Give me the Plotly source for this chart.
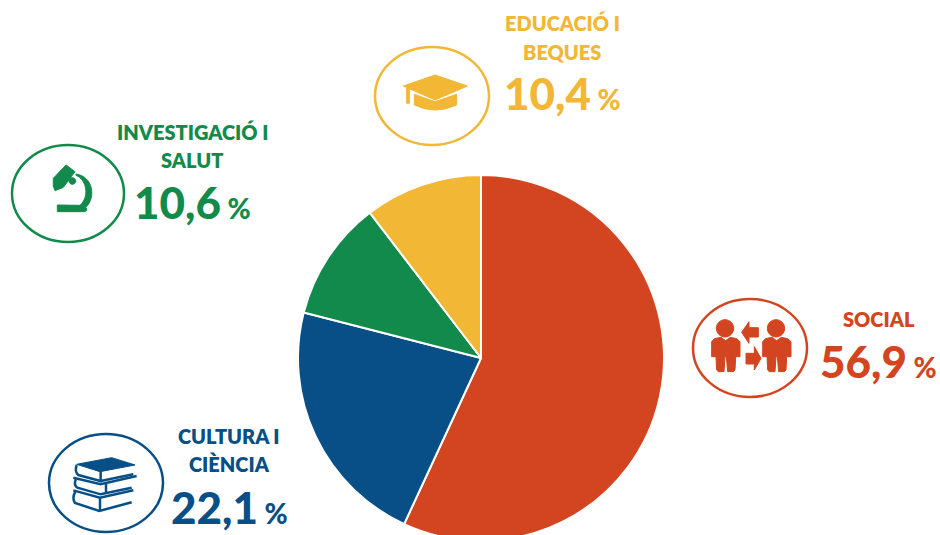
import re
import plotly.graph_objects as go

categories = ["SOCIAL", "CULTURA I<br>CIÈNCIA", "INVESTIGACIÓ I<br>SALUT", "EDUCACIÓ I<br>BEQUES"]
values = [56.9, 22.1, 10.6, 10.4]
colors = ["#D34520", "#074F86", "#128A4B", "#F1B735"]

W, H = 940, 545


def px(x, y):
    return x / W, 1 - y / H


def path_from(x0, y0, d):
    """Icon path written in 3x crop units -> paper coordinates."""
    toks = re.findall(r"[MLCQZ]|-?\d+\.?\d*", d)
    out, i = [], 0
    while i < len(toks):
        t = toks[i]
        if t.isalpha():
            out.append(t)
            i += 1
        else:
            X, Y = px(x0 + float(t) / 3, y0 + float(toks[i + 1]) / 3)
            out.append(f"{X:.5f},{Y:.5f}")
            i += 2
    return " ".join(out)


shapes = []


def ring(x1, y1, x2, y2, c):
    a, b = px(x1, y1), px(x2, y2)
    shapes.append(dict(type="circle", xref="paper", yref="paper", x0=a[0], x1=b[0], y0=b[1], y1=a[1],
                       line=dict(color=c, width=2.5), fillcolor="rgba(0,0,0,0)"))


def icon(x0, y0, d, c, fill=True, w=1):
    shapes.append(dict(type="path", xref="paper", yref="paper", path=path_from(x0, y0, d),
                       fillcolor=c if fill else "rgba(0,0,0,0)",
                       line=dict(color=c, width=w)))


def disc(cx, cy, r):
    k = 0.5523 * r
    return (f"M{cx-r},{cy} C{cx-r},{cy-k} {cx-k},{cy-r} {cx},{cy-r} C{cx+k},{cy-r} {cx+r},{cy-k} {cx+r},{cy} "
            f"C{cx+r},{cy+k} {cx+k},{cy+r} {cx},{cy+r} C{cx-k},{cy+r} {cx-r},{cy+k} {cx-r},{cy} Z")


def person(o):
    pts = [(88, 146), (108, 142), (122, 152), (136, 142), (155, 146), (165, 155), (165, 200), (152, 200),
           (150, 240), (145, 245), (128, 245), (124, 200), (120, 200), (117, 245), (100, 245), (95, 240),
           (93, 200), (80, 200), (80, 155)]
    return "M" + " L".join(f"{x+o},{y}" for x, y in pts) + " Z"


# Social icon
orange, blue, green, yellow = colors
ring(693, 299, 807, 397, orange)
for o, cx in ((0, 120), (153, 273)):
    icon(685, 290, disc(cx, 115, 26), orange)
    icon(685, 290, person(o), orange)
icon(685, 290, "M170,127 L192,95 L192,113 L220,113 L220,141 L192,141 L192,160 Z", orange)
icon(685, 290, "M228,205 L208,170 L208,190 L183,190 L183,222 L208,222 L208,240 Z", orange)

# Books icon
ring(49, 434, 163, 532, blue)
icon(40, 415, "M110,148 L215,128 L285,150 L180,170 Z", blue, True, 1)
for d in ["M110,150 Q103,170 115,180 L182,198 L182,170",
          "M182,198 L280,178",
          "M100,188 L182,208 L290,183",
          "M108,192 Q100,210 112,218 L182,238 L275,218",
          "M198,206 L198,236",
          "M100,226 L180,248 L280,226",
          "M106,230 Q95,250 105,264 L178,288 L275,262",
          "M180,248 L180,286"]:
    icon(40, 415, d, blue, False, 2.5)

# Microscope icon
ring(12, 145, 124, 242, green)
icon(0, 110, "M160,205 L198,165 L225,185 L190,232 L165,242 L160,228 Z", green)
icon(0, 110, disc(217, 213, 10), green)
icon(0, 110, "M172,285 L172,305 L250,305 C262,305 262,298 258,293 L240,286 Z", green)
icon(0, 110, "M228,196 C262,210 268,262 240,286 L258,292 C288,262 280,200 228,192 Z", green)

# Mortarboard icon
ring(375, 47, 489, 145, yellow)
icon(370, 0, "M100,258 L195,225 L292,258 L195,300 Z", yellow)
icon(370, 0, "M110,264 L118,267 L118,310 L110,310 Z", yellow)
icon(370, 0, "M133,283 L195,305 L260,283 L260,315 Q195,345 133,315 Z", yellow)

title_x = [879, 229, 192, 562]
title_y = [[319], [436, 464], [132, 160], [23, 52]]
value_pos = [(878, 361), (229, 507), (192, 202), (562, 93)]

annotations = []
for cat, v, c, tx, tys, (vx, vy) in zip(categories, values, colors, title_x, title_y, value_pos):
    for line, ty in zip(cat.split("<br>"), tys):
        a = px(tx, ty)
        annotations.append(dict(x=a[0], y=a[1], xref="paper", yref="paper", text=line, showarrow=False,
                                xanchor="center", yanchor="middle", align="center",
                                font=dict(family="Lato", size=20, weight=800, color=c)))
    a = px(vx, vy)
    label = f"{v:.1f}".replace(".", ",")
    annotations.append(dict(x=a[0], y=a[1], xref="paper", yref="paper",
                            text=f"{label}<span style='font-size:28px'> %</span>", showarrow=False,
                            xanchor="center", yanchor="middle",
                            font=dict(family="Lato", size=44, weight=900, color=c)))

fig = go.Figure(go.Pie(
    labels=[c.replace("<br>", " ") for c in categories], values=values, sort=False, direction="clockwise",
    rotation=0, marker=dict(colors=colors, line=dict(color="white", width=2)), textinfo="none",
    hoverinfo="label+percent", showlegend=False,
    domain=dict(x=[298 / W, 664 / W], y=[(H - 541) / H, (H - 175) / H]),
))
fig.update_layout(width=W, height=H, margin=dict(l=0, r=0, t=0, b=0), paper_bgcolor="white",
                  shapes=shapes, annotations=annotations, showlegend=False)
fig.write_html("out.html", config={"displayModeBar": False},
               post_script="document.body.style.margin='0';document.documentElement.style.overflow='hidden';document.body.style.overflow='hidden';")
